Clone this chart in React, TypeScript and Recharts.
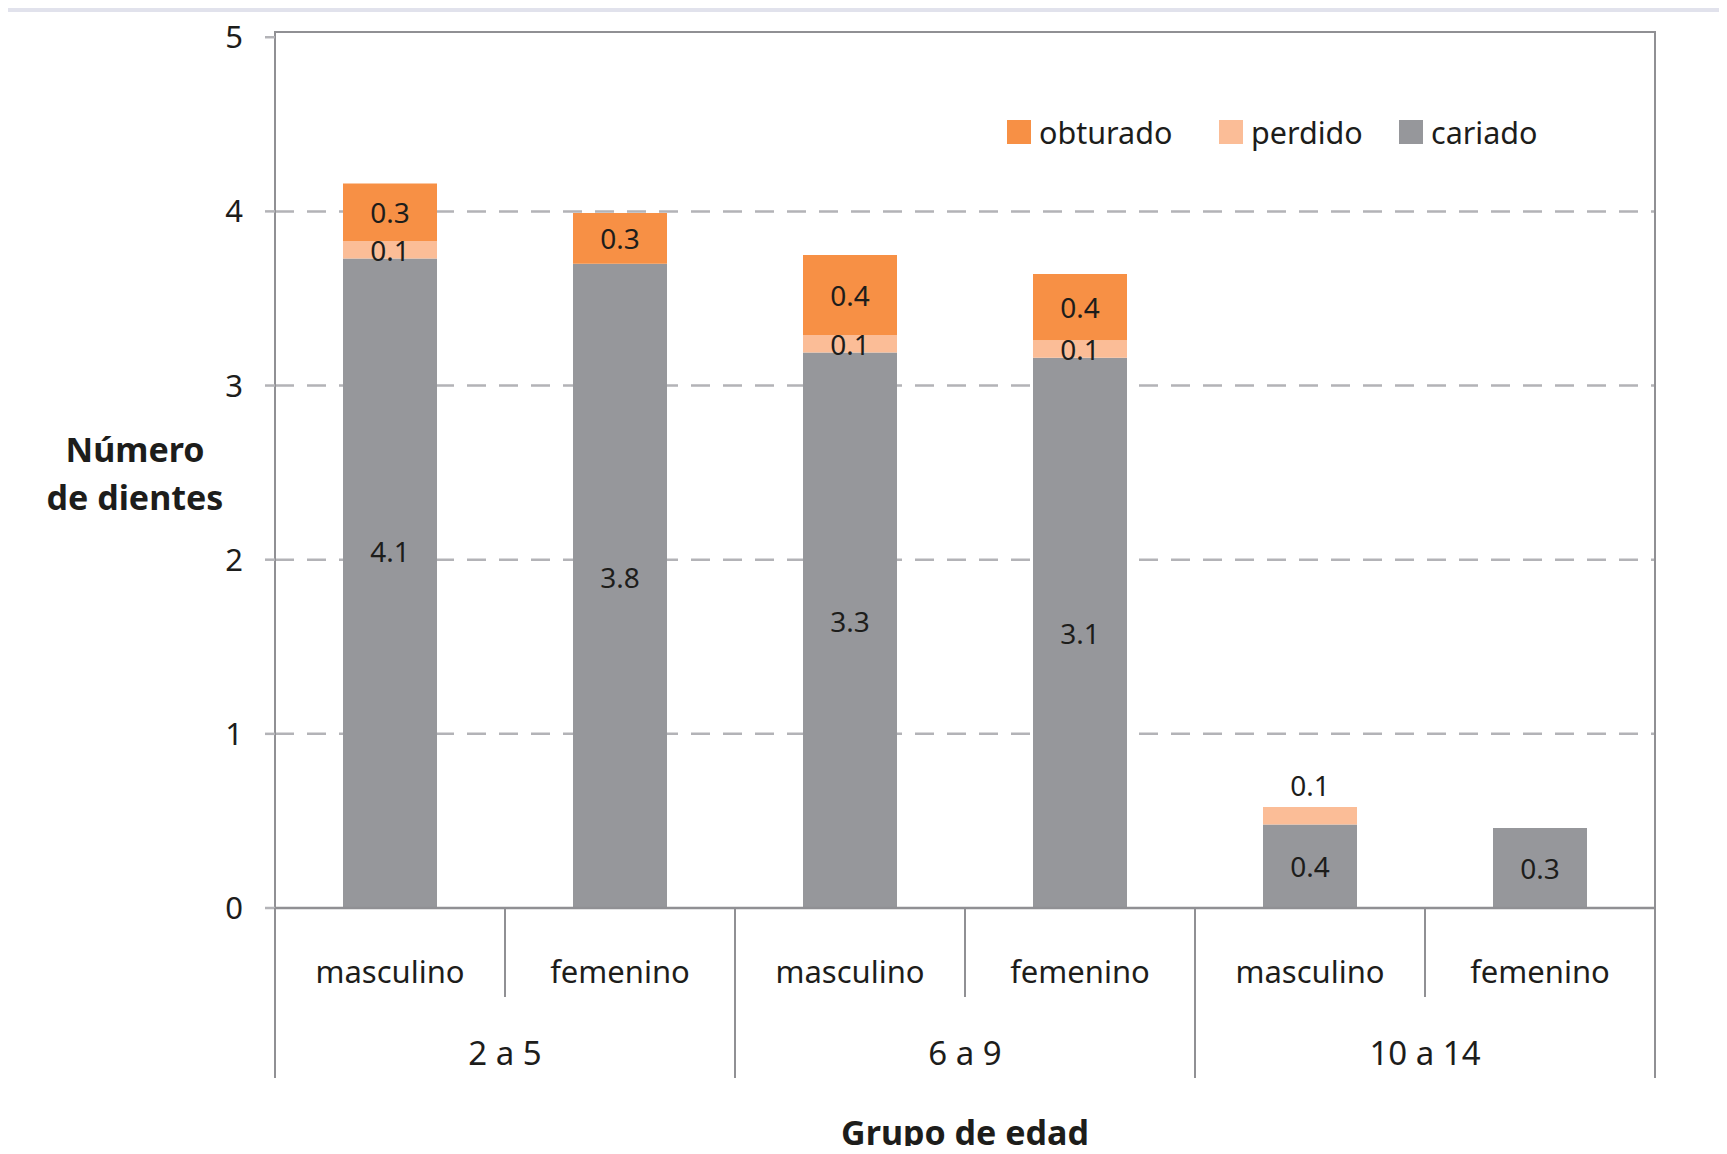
import { BarChart, Bar, XAxis, YAxis, CartesianGrid, ReferenceArea, LabelList, Label } from 'recharts'

const categories = ['masculino', 'femenino', 'masculino', 'femenino', 'masculino', 'femenino']
const groups = ['2 a 5', '6 a 9', '10 a 14']

// bar heights as drawn in the picture
const cariado = [3.73, 3.7, 3.19, 3.16, 0.48, 0.46]
const perdido = [0.1, 0, 0.1, 0.1, 0.1, 0]
const obturado = [0.33, 0.29, 0.46, 0.38, 0, 0]

// printed labels (they do not always agree with the drawn heights)
const cariadoLabels = ['4.1', '3.8', '3.3', '3.1', '0.4', '0.3']
const perdidoLabels = ['0.1', '', '0.1', '0.1', '0.1', '']
const obturadoLabels = ['0.3', '0.3', '0.4', '0.4', '', '']

const yTicks = [0, 1, 2, 3, 4, 5]
const gridValues = [1, 2, 3, 4]

const series = [
  { key: 'obturado', name: 'obturado', color: '#f79045' },
  { key: 'perdido', name: 'perdido', color: '#fbbd97' },
  { key: 'cariado', name: 'cariado', color: '#96979b' },
]

const data = categories.map((c, i) => ({
  key: `${groups[Math.floor(i / 2)]}|${c}`,
  cariado: cariado[i],
  perdido: perdido[i],
  obturado: obturado[i],
}))

const TEXT = '#1d1d1b'
const LINE = '#909094'
const FONT = '"Noto Sans", sans-serif'

function rectOf(p: any) {
  const vb = p.viewBox && p.viewBox.width != null ? p.viewBox : p
  const top = Math.min(vb.y, vb.y + vb.height)
  const h = Math.abs(vb.height)
  return { x: vb.x, w: vb.width, top, h }
}

// zero-height segments get no label entry, so find the row by its key
function rowOf(p: any) {
  const k = p.payload?.key ?? p.value
  const i = data.findIndex((d) => d.key === k)
  return i >= 0 ? i : p.index
}

function CariadoLabel(p: any) {
  const i = rowOf(p)
  const text = cariadoLabels[i]
  if (!text) return null
  const { x, w, top, h } = rectOf(p)
  const ppu = h / cariado[i]
  const cy = Math.min(top + h - (Number(text) / 2) * ppu, top + h / 2)
  return (
    <text x={x + w / 2} y={cy} textAnchor="middle" dominantBaseline="central" fontSize={28} fill={TEXT}>
      {text}
    </text>
  )
}

function PerdidoLabel(p: any) {
  const i = rowOf(p)
  const text = perdidoLabels[i]
  if (!text) return null
  const { x, w, top, h } = rectOf(p)
  const onTop = obturado[i] === 0
  const cy = onTop ? top - 22 : top + h / 2
  return (
    <text x={x + w / 2} y={cy} textAnchor="middle" dominantBaseline="central" fontSize={28} fill={TEXT}>
      {text}
    </text>
  )
}

function ObturadoLabel(p: any) {
  const i = rowOf(p)
  const text = obturadoLabels[i]
  if (!text) return null
  const { x, w, top, h } = rectOf(p)
  return (
    <text x={x + w / 2} y={top + h / 2} textAnchor="middle" dominantBaseline="central" fontSize={28} fill={TEXT}>
      {text}
    </text>
  )
}

function XTick(props: any) {
  const { x, y, payload } = props
  const i = payload?.index ?? props.index
  const half = payload?.offset || 115
  const left = x - half
  const groupStart = i % 2 === 0
  return (
    <g>
      <line x1={left} x2={left} y1={y} y2={y + (groupStart ? 170 : 89)} stroke={LINE} strokeWidth={2} />
      {i === categories.length - 1 && (
        <line x1={x + half} x2={x + half} y1={y} y2={y + 170} stroke={LINE} strokeWidth={2} />
      )}
      <text x={x} y={y + 75} textAnchor="middle" fontSize={31} fill={TEXT}>
        {categories[i]}
      </text>
      {groupStart && (
        <text x={x + half} y={y + 157} textAnchor="middle" fontSize={33} fill={TEXT}>
          {groups[i / 2]}
        </text>
      )}
    </g>
  )
}

function YTitle(props: any) {
  const vb = props.viewBox
  const cx = vb.x + 135
  const cy = vb.y + vb.height / 2
  return (
    <text textAnchor="middle" fontSize={34} fontWeight="bold" fill={TEXT}>
      <tspan x={cx} y={cy - 8}>Número</tspan>
      <tspan x={cx} y={cy + 40}>de dientes</tspan>
    </text>
  )
}

function XTitle(props: any) {
  const vb = props.viewBox
  return (
    <text x={vb.x + vb.width / 2} y={vb.y + 237} textAnchor="middle" fontSize={34} fontWeight="bold" fill={TEXT}>
      Grupo de edad
    </text>
  )
}

const legendLeft = [1007, 1219, 1399]

export default function App() {
  return (
    <div
      style={{
        position: 'relative',
        width: 1727,
        height: 1154,
        margin: -8,
        overflow: 'hidden',
        background: '#fff',
        fontFamily: FONT,
      }}
    >
      <div style={{ position: 'absolute', left: 0, top: 0, width: 1727, height: 12, background: '#e1e2ec' }} />
      <div style={{ position: 'absolute', left: 0, top: 12, width: 4, height: 1142, background: '#e1e2ec' }} />
      <div style={{ position: 'absolute', left: 4, top: 12, width: 3, height: 1142, background: '#6e6e73' }} />

      <div style={{ position: 'absolute', left: 0, top: 0 }}>
        <BarChart
          width={1727}
          height={1154}
          data={data}
          margin={{ top: 32, right: 72, bottom: 0, left: 0 }}
          barSize={94}
          style={{ fontFamily: FONT }}
        >
          <CartesianGrid
            vertical={false}
            horizontalValues={gridValues}
            stroke="#b3b3b7"
            strokeWidth={2.5}
            strokeDasharray="19 13"
          />
          <ReferenceArea y1={0} y2={5.03} fill="none" stroke={LINE} strokeWidth={2} ifOverflow="visible" />
          <XAxis
            dataKey="key"
            height={246}
            interval={0}
            tickSize={0}
            tickMargin={0}
            tickLine={false}
            axisLine={{ stroke: LINE, strokeWidth: 2.5 }}
            tick={<XTick />}
          >
            <Label content={<XTitle />} />
          </XAxis>
          <YAxis
            width={275}
            domain={[0, 5.03]}
            ticks={yTicks}
            axisLine={false}
            tickLine={{ stroke: '#b3b3b7', strokeWidth: 2.5 }}
            tickSize={10}
            tickMargin={22}
            tick={{ fontSize: 31, fill: TEXT }}
          >
            <Label content={<YTitle />} />
          </YAxis>
          <Bar dataKey="cariado" stackId="a" fill={series[2].color} isAnimationActive={false}>
            <LabelList dataKey="key" content={<CariadoLabel />} />
          </Bar>
          <Bar dataKey="perdido" stackId="a" fill={series[1].color} isAnimationActive={false}>
            <LabelList dataKey="key" content={<PerdidoLabel />} />
          </Bar>
          <Bar dataKey="obturado" stackId="a" fill={series[0].color} isAnimationActive={false}>
            <LabelList dataKey="key" content={<ObturadoLabel />} />
          </Bar>
        </BarChart>
      </div>

      {series.map((s, i) => (
        <div
          key={s.key}
          style={{
            position: 'absolute',
            left: legendLeft[i],
            top: 117,
            height: 30,
            display: 'flex',
            alignItems: 'center',
            gap: 8,
          }}
        >
          <div style={{ width: 24, height: 24, background: s.color }} />
          <span style={{ fontSize: 30.5, lineHeight: '30px', color: TEXT }}>{s.name}</span>
        </div>
      ))}
    </div>
  )
}
